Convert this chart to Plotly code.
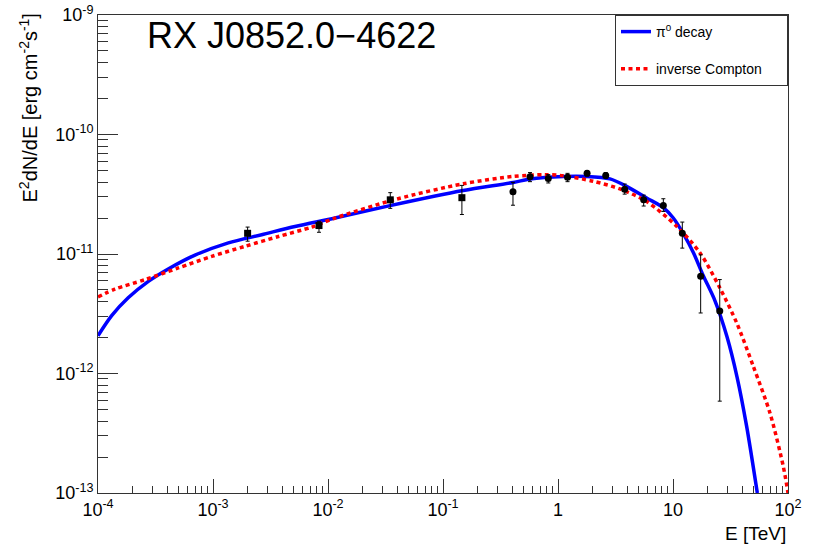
import plotly.graph_objects as go

# ---------------- data ----------------
fermi_E = [2.0e-3, 8.35e-3, 0.0348, 0.146]
fermi_F = [1.49e-11, 1.73e-11, 2.84e-11, 2.96e-11]
fermi_up = [1.68e-11, 1.88e-11, 3.26e-11, 3.75e-11]
fermi_lo = [1.28e-11, 1.52e-11, 2.41e-11, 2.14e-11]

hess_E = [0.406, 0.571, 0.823, 1.21, 1.79, 2.60, 3.80, 5.56, 8.24, 12.05, 17.4, 25.5]
hess_F = [3.32e-11, 4.44e-11, 4.28e-11, 4.38e-11, 4.73e-11, 4.53e-11,
          3.49e-11, 2.84e-11, 2.55e-11, 1.49e-11, 6.52e-12, 3.34e-12]
hess_up = [3.98e-11, 4.80e-11, 4.62e-11, 4.73e-11, 4.95e-11, 4.80e-11,
           3.85e-11, 3.11e-11, 2.90e-11, 1.85e-11, 9.84e-12, 6.11e-12]
hess_lo = [2.56e-11, 4.03e-11, 3.93e-11, 4.03e-11, 4.49e-11, 4.28e-11,
           3.17e-11, 2.52e-11, 2.27e-11, 1.12e-11, 3.21e-12, 5.87e-13]

pi0_E = [1.0e-4, 1.315e-4, 1.83e-4, 2.74e-4, 4.08e-4, 6.97e-4, 1.36e-3, 2.65e-3,
         5.16e-3, 1.15e-2, 3.46e-2, 0.150, 0.408, 0.571, 1.11, 1.78, 2.83, 3.95,
         5.90, 8.24, 10.06, 12.29, 15.02, 18.34, 23.18, 29.49, 36.02, 43.7, 54.1]
pi0_F = [2.07e-12, 3.05e-12, 4.30e-12, 5.90e-12, 7.50e-12, 9.80e-12, 1.24e-11, 1.45e-11,
         1.70e-11, 2.00e-11, 2.54e-11, 3.40e-11, 3.97e-11, 4.25e-11, 4.46e-11, 4.46e-11,
         4.25e-11, 3.68e-11, 2.94e-11, 2.44e-11, 2.00e-11, 1.48e-11, 1.03e-11, 6.58e-12,
         4.06e-12, 2.03e-12, 9.39e-13, 3.61e-13, 1.0e-13]

ic_E = [1.0e-4, 1.405e-4, 2.56e-4, 4.99e-4, 9.75e-4, 1.90e-3, 3.70e-3, 7.21e-3,
        1.15e-2, 3.95e-2, 0.150, 0.408, 0.771, 1.11, 2.03, 3.46, 5.90, 10.8, 17.2,
        25.6, 35.8, 49.9, 69.7, 91.0, 100.0]
ic_F = [4.37e-12, 5.09e-12, 6.10e-12, 7.64e-12, 9.55e-12, 1.16e-11, 1.40e-11, 1.68e-11,
        2.00e-11, 2.88e-11, 3.87e-11, 4.46e-11, 4.61e-11, 4.52e-11, 4.06e-11, 3.50e-11,
        2.75e-11, 1.70e-11, 1.02e-11, 5.19e-12, 2.65e-12, 1.15e-12, 4.67e-13, 1.67e-13,
        1.0e-13]

x_tickvals = [1e-4, 1e-3, 1e-2, 1e-1, 1, 10, 100]
x_ticktext = ["10<sup>-4</sup>", "10<sup>-3</sup>", "10<sup>-2</sup>", "10<sup>-1</sup>",
              "1", "10", "10<sup>2</sup>"]
y_tickvals = [1e-13, 1e-12, 1e-11, 1e-10, 1e-9]
y_ticktext = ["10<sup>-13</sup>", "10<sup>-12</sup>", "10<sup>-11</sup>",
              "10<sup>-10</sup>", "10<sup>-9</sup>"]

# minor tick positions (2..9 in every decade of each axis)
x_minor = [m * d for d in x_tickvals[:-1] for m in range(2, 10)]
y_minor = [m * d for d in y_tickvals[:-1] for m in range(2, 10)]

# ---------------- figure ----------------
FONT = "Liberation Sans, Arial, sans-serif"
W, H = 817, 547
ML, MR, MT, MB = 98, 29, 15, 54
PW, PH = W - ML - MR, H - MT - MB

fig = go.Figure()

fig.add_trace(go.Scatter(
    x=pi0_E, y=pi0_F, mode="lines", name="\u03c0<sup>0</sup> decay",
    line=dict(color="#0000ff", width=3.5, shape="spline", smoothing=0.8), legendgroup="a"))
fig.add_trace(go.Scatter(
    x=ic_E, y=ic_F, mode="lines", name="inverse Compton" + "\u00a0" * 5,
    line=dict(color="#ff0000", width=3.5, dash="4px,3.5px", shape="spline", smoothing=0.8),
    legendgroup="b"))

fig.add_trace(go.Scatter(
    x=fermi_E, y=fermi_F, mode="markers", showlegend=False,
    marker=dict(symbol="square", size=7, color="black"),
    error_y=dict(type="data", symmetric=False,
                 array=[u - f for u, f in zip(fermi_up, fermi_F)],
                 arrayminus=[f - l for f, l in zip(fermi_F, fermi_lo)],
                 color="black", thickness=1, width=2)))
fig.add_trace(go.Scatter(
    x=hess_E, y=hess_F, mode="markers", showlegend=False,
    marker=dict(symbol="circle", size=7, color="black"),
    error_y=dict(type="data", symmetric=False,
                 array=[u - f for u, f in zip(hess_up, hess_F)],
                 arrayminus=[f - l for f, l in zip(hess_F, hess_lo)],
                 color="black", thickness=1, width=2)))

axis_common = dict(
    type="log", showgrid=False, zeroline=False, showline=True, linecolor="#333333",
    linewidth=1, mirror=True, ticks="inside", tickcolor="#333333", automargin=False,
    tickfont=dict(family=FONT, size=18, color="black"),
)

fig.update_xaxes(
    **axis_common, range=[-4, 2], tickmode="array", tickvals=x_tickvals,
    ticktext=x_ticktext, ticklen=14,
    minor=dict(ticks="inside", ticklen=7, tickcolor="#333333", tickmode="array",
               tickvals=x_minor, showgrid=False))
fig.update_yaxes(
    **axis_common, range=[-13, -9], tickmode="array", tickvals=y_tickvals,
    ticktext=y_ticktext, ticklen=20,
    minor=dict(ticks="inside", ticklen=10, tickcolor="#333333", tickmode="array",
               tickvals=y_minor, showgrid=False))

fig.add_annotation(
    text="RX J0852.0\u22124622", xref="paper", yref="paper",
    x=(145 - ML) / PW, y=1 - (35 - MT) / PH,
    xanchor="left", yanchor="middle", showarrow=False,
    font=dict(family=FONT, size=36, color="black"))

fig.add_annotation(
    text="E<sup>2</sup>dN/dE [erg cm<sup>-2</sup>s<sup>-1</sup>]",
    xref="paper", yref="paper", textangle=-90,
    x=(28 - ML) / PW, y=1 + (MT - 12) / PH, xanchor="center", yanchor="top",
    showarrow=False, font=dict(family=FONT, size=20, color="black"))

fig.add_annotation(
    text="E [TeV]", xref="paper", yref="paper",
    x=1.0, y=-(H - 1 - (H - MB)) / PH, xanchor="right", yanchor="bottom",
    showarrow=False, font=dict(family=FONT, size=19, color="black"))

fig.update_layout(
    width=W, height=H, margin=dict(l=ML, r=MR, t=MT, b=MB, autoexpand=False),
    paper_bgcolor="white", plot_bgcolor="white",
    showlegend=True,
    legend=dict(x=1, y=1, xanchor="right", yanchor="top", bgcolor="white",
                bordercolor="#333333", borderwidth=1, tracegroupgap=16,
                itemwidth=30, font=dict(family=FONT, size=14, color="black")),
)

fig.write_html("out.html", config={"displayModeBar": False},
               post_script="document.body.style.margin='0';document.body.style.padding='0';")
